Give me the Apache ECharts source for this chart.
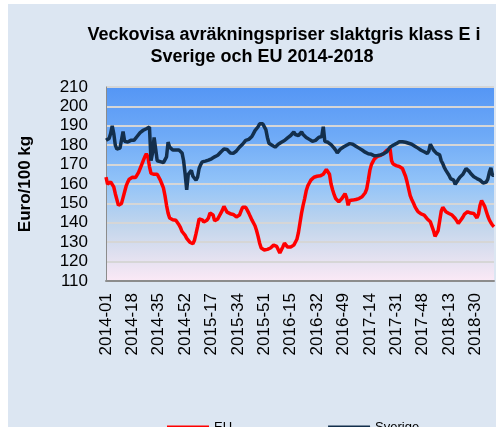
<!DOCTYPE html>
<html>
<head>
<meta charset="utf-8">
<script src="https://cdn.jsdelivr.net/npm/echarts@6/dist/echarts.min.js"></script>
<style>
html,body{margin:0;padding:0;background:#ffffff;}
#chart{position:absolute;left:8px;top:4px;width:488px;height:423px;}
</style>
</head>
<body>
<div id="chart"></div>
<script>
// ISO weeks per year shown on the axis
const years = [2014, 2015, 2016, 2017, 2018];
const weeksShown = [52, 53, 52, 52, 42];

const titleLines = ['Veckovisa avräkningspriser slaktgris klass E i', 'Sverige och EU 2014-2018'];
const yAxisName = 'Euro/100 kg';
const seriesNames = ['EU', 'Sverige'];

// EU weekly prices (Euro/100 kg)
const euPrices = [
163.5,160,161,161,160,158.5,155,152,149,149,
150,153,156,159,161,162.5,163,163.5,163,163.3,
163.6,166,168,170,172,174,175.6,174,169,165.5,
165,165,165,165,164,162,160,158,154,149,
145,142.5,142,141.6,141.5,141.3,140.5,139,137.5,135.5,
134.5,133.5,132,131,130,129.5,129.2,131,134.4,138,
142,143,141.5,140.4,140.5,141.3,142.5,145,146,144,
141,141.3,142,143.5,145,146.5,148.5,147,145.5,144.7,
144.7,144.5,144.3,144,143,
142.5,144,146,148,149,148,146.5,145,143.2,141.5,140.5,138.5,136,133,129.5,
127,126.2,126,126,126.3,126.6,127,127.8,128.5,128.3,
127.8,127,124.5,125.5,127.7,129.5,129.5,127.5,127,127.5,
127.7,128.5,130,131.5,
135,140,145,149,152.5,156.5,
159,160.5,162,162.8,163.5,164.2,164,164,164.2,164.5,
165,166,167.5,167,165,160,157,154.5,152.5,151.5,
150.8,151.5,152.5,153.5,155,153,149,151.5,151.7,151.7,
152,152,152.3,152.5,153,153.4,
154.3,155.5,157.5,162,167,170,171.5,173,173.8,174.3,
174.6,174.8,175.2,175.7,176.5,177.4,177.8,178.3,172,170.3,
169.8,169.5,169.3,169,168.8,168,167,164,161,157.5,
154,152,150.3,148.5,147,145.8,145,144.6,144.3,144,
143,142,141,140.5,139.5,136,133,133.3,136,141,
146,148,147,145.7,145.2,144.8,144.4,144,143,142.2,
141,139.7,140.5,141.8,143,144.5,145.2,145.7,145.3,145,
144.8,144.8,144.8,142.5,144.5,149,151.5,151,148.5,146,
143.5,141.5,140,138.8,138
];

// Sverige weekly prices (Euro/100 kg)
const sePrices = [
182.5,182.5,183.5,186,190,186,180,178,178,178.5,
179,187,182,181,181.6,181.6,182.5,183,182.5,183.5,
184.5,185.5,186.5,187,187.7,188,188.5,189,189.4,172,
176,184,178,172,171.5,171.5,171.3,171,171.5,174,
181.6,179,178,177.5,177.5,177.5,177.5,177.5,177,176,
172,165,157,165,164.5,167,164,163.5,162,163.5,
168,170,171.4,171.5,171.8,172,172.3,172.6,173,173.5,
174,174.3,174.8,175.5,176.5,177.4,178,178.3,177.8,177,
176,175.7,175.8,176.2,177,178,179,179.5,180.5,181.5,
182.5,182.5,183,183.4,184.5,186,187.5,188.5,189.5,191,
191.3,191,190.5,188,184,181,180.5,180,179.5,179,
179.5,180.5,181,181.5,182,182.4,183,183.8,184.3,185,
186,186.8,185.5,185,185,186,186.8,185.5,184.5,184,
183.5,183,182.5,182,181.7,182.5,183.5,184,185,184.5,
189.5,182,181.7,181.5,181,180.3,179.5,178.5,177.4,176,
176.5,178,178.7,179.1,179.5,180,180.3,180.8,180.3,180.5,
180.6,179.5,179,178.5,178.3,177.5,176.6,176.4,176,175.6,
175.4,175.3,175,174.5,174.5,174.7,174.8,175,175.3,175.7,
176.2,176.6,177.8,179,179.5,180,180.4,180.8,181.3,181.8,
182,181.8,181.7,181.5,181.4,181,180.8,180.5,180,179.5,
179,178.5,177.8,177.4,177,176.6,176.2,175.7,177,180.5,
179.5,177.5,176.5,175.8,175.5,175,172,170.5,168.5,167,
166.3,164.5,162.8,162.5,162,159.8,161,162.3,163.5,164,
165,166.5,168,168.5,166.5,165.4,164.5,163.7,163.3,162.8,
162.5,162,161.3,160.5,160.3,161,162.5,166,168.3,164.5,
164.5
];

const yMin = 110, yMax = 210, yStep = 10;

const weeks = [];
years.forEach((y, k) => {
  for (let w = 1; w <= weeksShown[k]; w++) {
    weeks.push(y + '-' + (w < 10 ? '0' + w : '' + w));
  }
});

const chart = echarts.init(document.getElementById('chart'), null, {renderer: 'canvas'});
const fam = '"Liberation Sans", Arial, sans-serif';

chart.setOption({
  backgroundColor: '#dce6f2',
  animation: false,
  graphic: [
    {type: 'text', left: 'center', style: {}, invisible: true},
    {type: 'text', x: 276, y: 31, style: {text: titleLines[0], font: 'bold 18px ' + fam, fill: '#000', textAlign: 'center', textVerticalAlign: 'middle'}},
    {type: 'text', x: 254, y: 53, style: {text: titleLines[1], font: 'bold 18px ' + fam, fill: '#000', textAlign: 'center', textVerticalAlign: 'middle'}}
  ],
  grid: {
    left: 98, top: 83, right: 2, bottom: 146,
    show: true,
    borderWidth: 0,
    backgroundColor: new echarts.graphic.LinearGradient(0, 0, 0, 1, [
      {offset: 0, color: '#5596f5'},
      {offset: 0.25, color: '#6eaaf7'},
      {offset: 0.5, color: '#93c4f8'},
      {offset: 0.72, color: '#c3d6ec'},
      {offset: 0.88, color: '#e3e1f0'},
      {offset: 1, color: '#fbe9f6'}
    ])
  },
  legend: {
    data: seriesNames,
    left: 154, top: 412,
    itemWidth: 42, itemHeight: 4, itemGap: 96,
    icon: 'rect',
    textStyle: {fontFamily: fam, fontSize: 13, color: '#000'}
  },
  xAxis: {
    type: 'category',
    data: weeks,
    boundaryGap: false,
    axisLine: {show: true, lineStyle: {color: '#8c8c8c', width: 2}},
    axisTick: {show: false},
    axisLabel: {interval: 16, rotate: 90, margin: 12, fontFamily: fam, fontSize: 17, color: '#000'},
    splitLine: {show: false}
  },
  yAxis: {
    type: 'value',
    min: yMin, max: yMax, interval: yStep,
    name: yAxisName,
    nameLocation: 'middle',
    nameRotate: 90,
    nameGap: 72,
    nameTextStyle: {fontFamily: fam, fontSize: 17, fontWeight: 'bold', color: '#000'},
    axisLine: {show: true, lineStyle: {color: '#8c8c8c', width: 1}},
    axisTick: {show: false},
    axisLabel: {margin: 18, fontFamily: fam, fontSize: 17, color: '#000'},
    splitLine: {show: true, lineStyle: {color: '#d6d6d6', width: 2}}
  },
  series: [
    {name: seriesNames[0], type: 'line', data: euPrices, symbol: 'none', lineStyle: {color: '#ff0000', width: 3.5}, itemStyle: {color: '#ff0000'}, z: 3},
    {name: seriesNames[1], type: 'line', data: sePrices, symbol: 'none', lineStyle: {color: '#132f4c', width: 3.5}, itemStyle: {color: '#132f4c'}, z: 4}
  ]
});
</script>
</body>
</html>
